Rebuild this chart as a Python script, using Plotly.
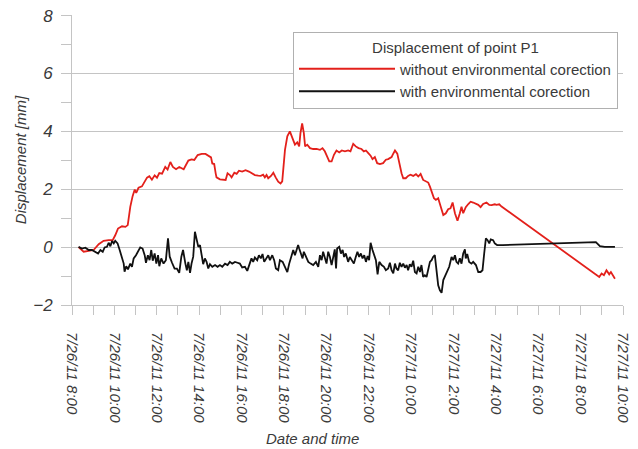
import pandas as pd
import plotly.graph_objects as go

start_time = "2011-07-26 08:00"

# hours after start, displacement [mm] -- without environmental correction
red_hours = [0.31,0.55,0.79,1.02,1.26,1.49,1.73,1.92,2.04,2.17,2.36,2.52,2.63,2.75,2.86,2.96,3.03,3.14,3.30,3.43,
             3.54,3.65,3.77,3.90,4.01,4.12,4.25,4.40,4.51,4.64,4.76,4.91,5.06,5.27,5.42,5.49,5.64,5.77,5.93,6.12,
             6.30,6.46,6.56,6.62,6.71,6.78,6.82,6.98,7.14,7.25,7.34,7.45,7.53,7.66,7.77,7.88,8.03,8.19,8.35,8.47,
             8.63,8.79,8.91,9.02,9.10,9.18,9.26,9.39,9.50,9.61,9.73,9.84,9.92,10.05,10.16,10.28,10.41,10.52,10.63,10.72,
             10.78,10.86,10.94,11.00,11.10,11.23,11.38,11.54,11.70,11.82,11.93,12.04,12.14,12.25,12.36,12.48,12.61,12.73,12.88,13.03,
             13.14,13.27,13.39,13.52,13.66,13.77,13.87,13.98,14.09,14.18,14.29,14.40,14.53,14.68,14.81,14.92,15.08,15.13,15.24,15.35,
             15.44,15.55,15.63,15.75,15.86,15.97,16.10,16.23,16.34,16.45,16.57,16.70,16.81,16.89,16.97,17.08,17.17,17.28,17.39,17.52,
             17.64,17.75,17.86,17.96,18.07,18.19,18.30,18.38,18.46,18.58,18.70,18.81,18.93,19.06,19.17,19.28,19.40,19.56,19.69,19.80,
             19.95,20.03,20.16,20.27,24.88,24.99,25.10,25.22,25.35,25.43,25.54,25.62]
red_values = [0.00,-0.16,-0.13,-0.10,0.10,0.22,0.24,0.24,0.41,0.64,0.72,0.70,0.76,1.39,1.76,1.99,1.87,2.05,2.10,2.25,
              2.40,2.45,2.33,2.48,2.40,2.56,2.54,2.77,2.68,2.94,2.77,2.69,2.77,2.69,2.88,2.99,3.03,3.01,3.18,3.22,
              3.22,3.15,3.10,2.89,2.87,2.55,2.41,2.34,2.34,2.32,2.55,2.49,2.41,2.57,2.53,2.64,2.61,2.66,2.61,2.55,
              2.49,2.47,2.46,2.50,2.41,2.49,2.38,2.46,2.57,2.41,2.26,2.20,2.27,3.36,3.83,4.00,3.71,3.54,3.62,3.48,
              3.94,4.27,3.94,3.48,3.54,3.42,3.39,3.39,3.36,3.42,3.31,3.11,2.96,2.96,3.19,3.34,3.27,3.34,3.31,3.34,
              3.31,3.57,3.48,3.42,3.39,3.31,3.34,3.25,3.16,3.04,3.11,2.90,2.87,2.90,3.02,3.04,3.11,3.19,3.34,3.23,
              2.90,2.55,2.38,2.38,2.46,2.50,2.46,2.52,2.44,2.53,2.32,2.27,2.23,2.09,1.92,1.69,1.63,1.69,1.42,1.11,
              1.17,1.31,1.34,1.54,1.17,0.91,1.17,1.40,1.17,1.38,1.49,1.57,1.54,1.49,1.46,1.38,1.49,1.54,1.46,1.45,
              1.48,1.46,1.48,1.40,-1.03,-0.91,-0.97,-0.80,-0.94,-0.86,-1.01,-1.09]

# hours after start, displacement [mm] -- with environmental correction
black_hours = [0.31,0.47,0.63,0.79,0.94,1.10,1.23,1.34,1.45,1.54,1.65,1.73,1.81,1.89,1.97,2.04,2.15,2.25,2.36,2.44,
               2.48,2.56,2.64,2.75,2.83,2.91,3.02,3.11,3.22,3.33,3.43,3.49,3.58,3.66,3.74,3.81,3.90,3.98,4.06,4.12,
               4.21,4.32,4.43,4.53,4.61,4.72,4.84,4.95,5.06,5.16,5.24,5.35,5.42,5.49,5.57,5.64,5.72,5.80,5.88,5.96,
               6.04,6.12,6.19,6.27,6.35,6.43,6.51,6.62,6.75,6.87,6.98,7.09,7.22,7.34,7.45,7.56,7.69,7.81,7.92,8.03,
               8.16,8.27,8.36,8.47,8.55,8.63,8.74,8.82,8.91,8.99,9.07,9.15,9.26,9.34,9.45,9.54,9.62,9.73,9.81,9.94,
               10.05,10.16,10.25,10.36,10.44,10.52,10.60,10.67,10.72,10.80,10.88,10.94,11.04,11.15,11.26,11.38,11.51,11.62,11.70,11.78,
               11.85,11.93,12.01,12.09,12.17,12.25,12.33,12.40,12.46,12.51,12.61,12.69,12.77,12.84,12.92,13.03,13.11,13.21,13.30,13.39,
               13.47,13.55,13.63,13.71,13.79,13.87,13.95,14.02,14.09,14.18,14.26,14.34,14.42,14.50,14.61,14.72,14.81,14.92,15.00,15.08,
               15.16,15.24,15.31,15.39,15.47,15.55,15.63,15.71,15.79,15.86,15.94,16.02,16.10,16.18,16.26,16.34,16.42,16.49,16.57,16.65,
               16.73,16.81,16.89,16.97,17.04,17.12,17.20,17.28,17.36,17.44,17.52,17.59,17.67,17.80,17.91,17.99,18.07,18.14,18.22,18.30,
               18.38,18.46,18.54,18.58,18.65,18.74,18.85,18.93,19.06,19.17,19.28,19.37,19.45,19.53,19.61,19.69,19.76,19.87,19.95,20.06,
               20.32,21.29,22.86,24.72,24.91,25.14,25.62]
black_values = [0.01,-0.05,-0.02,-0.10,-0.10,-0.16,-0.22,-0.10,-0.16,-0.01,0.01,0.15,0.03,0.21,0.13,0.22,0.13,-0.10,-0.39,-0.57,
                -0.85,-0.66,-0.77,-0.57,-0.68,-0.39,-0.28,-0.13,-0.01,-0.05,-0.28,-0.54,-0.28,-0.45,-0.10,-0.47,-0.22,-0.57,-0.28,-0.66,
                -0.39,-0.57,-0.45,0.30,-0.33,-0.54,-0.74,-0.74,-0.89,-0.33,-0.10,-0.57,-0.80,-0.51,-0.89,-0.57,-0.33,0.53,0.24,0.01,
                0.07,-0.33,-0.59,-0.39,-0.51,-0.74,-0.59,-0.68,-0.62,-0.68,-0.62,-0.68,-0.57,-0.62,-0.51,-0.57,-0.51,-0.54,-0.57,-0.70,
                -0.68,-0.82,-0.62,-0.39,-0.51,-0.36,-0.45,-0.28,-0.39,-0.24,-0.51,-0.39,-0.28,-0.45,-0.28,-0.45,-0.74,-0.80,-0.45,-0.51,
                -0.68,-0.86,-0.57,-0.34,-0.10,-0.28,-0.05,0.07,-0.05,-0.22,-0.39,-0.16,-0.34,-0.51,-0.57,-0.62,-0.51,-0.68,-0.28,-0.45,
                -0.16,-0.34,-0.57,-0.16,-0.34,-0.62,-0.34,-0.08,-0.74,-0.05,0.01,-0.22,-0.10,-0.34,-0.22,-0.51,-0.34,-0.45,-0.57,-0.34,
                -0.16,-0.34,-0.22,-0.39,-0.28,-0.51,-0.31,-0.45,0.15,-0.10,-0.28,-0.45,-0.94,-0.51,-0.62,-0.68,-0.80,-0.74,-0.54,-0.80,
                -0.91,-0.57,-0.74,-0.80,-0.54,-0.68,-0.57,-0.71,-0.62,-0.80,-0.59,-0.68,-0.47,-0.86,-0.91,-0.68,-0.86,-0.62,-1.03,-0.97,
                -1.03,-0.80,-0.51,-0.45,-0.34,-0.28,-0.80,-1.32,-1.49,-1.58,-1.14,-1.03,-0.86,-0.68,-0.34,-0.45,-0.28,-0.51,-0.57,-0.39,
                -0.57,-0.22,-0.08,-0.39,-0.24,-0.51,-0.57,-0.51,-0.62,-0.86,-0.86,-0.80,-0.22,0.30,0.24,0.13,0.27,0.24,0.13,0.07,
                0.07,0.09,0.12,0.17,0.03,0.01,0.01]

series_names = ["without environmental corection", "with environmental corection"]
legend_title = "Displacement of point P1"
x_title = "Date and time"
y_title = "Displacement [mm]"
x_range = ["2011-07-26 08:00", "2011-07-27 10:00"]
y_range = [-2, 8.02]

t0 = pd.Timestamp(start_time)
red_x = t0 + pd.to_timedelta(red_hours, unit="h")
black_x = t0 + pd.to_timedelta(black_hours, unit="h")

FONT = "Liberation Sans, Arial, sans-serif"
TXT = "#3a3a3a"
GRID = "#c4c4c4"

# the page body adds an 8px margin, so the figure is 630x441 and margins are offset
fig = go.Figure()
fig.add_trace(go.Scatter(x=red_x, y=red_values, mode="lines", name=series_names[0],
                         line=dict(color="#e3201b", width=1.8)))
fig.add_trace(go.Scatter(x=black_x, y=black_values, mode="lines", name=series_names[1],
                         line=dict(color="#111111", width=1.8)))

fig.update_layout(
    width=630, height=441,
    margin=dict(l=64, r=15, t=7, b=144),
    paper_bgcolor="white", plot_bgcolor="white",
    font=dict(family=FONT, size=15, color=TXT),
    showlegend=True,
    legend=dict(
        x=(293 - 72) / 551, y=(305 - 32) / 290, xanchor="left", yanchor="top",
        bordercolor="#b0b0b0", borderwidth=1, bgcolor="white",
        font=dict(family=FONT, size=15, color=TXT),
        title=dict(text=legend_title, side="top center", font=dict(family=FONT, size=15, color=TXT)),
        tracegroupgap=0, itemwidth=96,
    ),
    xaxis=dict(
        range=x_range, type="date", automargin=False,
        tick0="2011-07-26 08:00", dtick=2 * 3600000,
        tickformat="%-m/%-d/%y %-H:%M", tickangle=90, ticklabelstandoff=14,
        ticks="outside", ticklen=9, tickcolor=GRID, tickwidth=1,
        minor=dict(dtick=3600000, ticks="outside", ticklen=9, tickcolor=GRID, showgrid=False),
        showline=True, linecolor=GRID, linewidth=1,
        showgrid=False, zeroline=False,
        tickfont=dict(family=FONT, size=15, color=TXT, style="italic"),
    ),
    yaxis=dict(
        range=y_range, dtick=2, tick0=0, automargin=False, ticklabeloverflow="allow",
        ticks="outside", ticklen=10, tickcolor=GRID, tickwidth=1, ticklabelstandoff=5,
        minor=dict(dtick=1, ticks="outside", ticklen=10, tickcolor=GRID, showgrid=False),
        showline=True, linecolor=GRID, linewidth=1,
        showgrid=True, gridcolor=GRID, gridwidth=1, zeroline=False,
        tickfont=dict(family=FONT, size=17, color=TXT, style="italic"),
        title=dict(text=y_title, standoff=2, font=dict(family=FONT, size=15, color=TXT, style="italic")),
    ),
    annotations=[dict(
        text=x_title, xref="paper", yref="paper",
        x=(312 - 72) / 551, y=(305 - 438) / 290, xanchor="center", yanchor="middle",
        showarrow=False, font=dict(family=FONT, size=15, color=TXT, style="italic"),
    )],
)

fig.write_html("out.html")
